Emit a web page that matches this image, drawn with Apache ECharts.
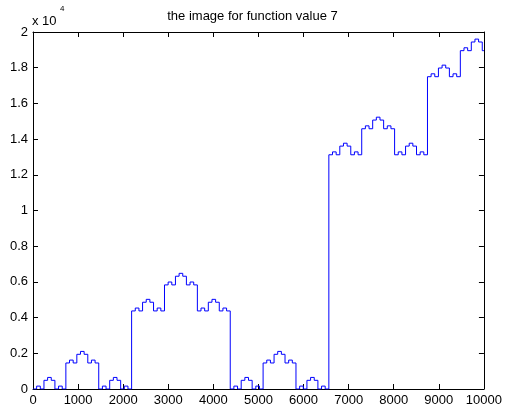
<!DOCTYPE html>
<html><head><meta charset="utf-8">
<script src="https://cdn.jsdelivr.net/npm/echarts@6/dist/echarts.min.js"></script>
<style>html,body{margin:0;padding:0;background:#fff}#c{width:505px;height:410px}</style>
</head><body><div id="c"></div>
<script>
// Step start positions (x) and the level held from each start until the next one
const xStarts = [
  0,81,162,243,324,405,486,567,648,729,
  810,891,972,1053,1134,1215,1296,1377,1458,1539,
  1620,1701,1782,1863,1944,2025,2106,2187,2268,2349,
  2430,2511,2592,2673,2754,2835,2916,2997,3078,3159,
  3240,3321,3402,3483,3564,3645,3726,3807,3888,3969,
  4050,4131,4212,4293,4374,4455,4536,4617,4698,4779,
  4860,4941,5022,5103,5184,5265,5346,5427,5508,5589,
  5670,5751,5832,5913,5994,6075,6156,6237,6318,6399,
  6480,6561,6642,6723,6804,6885,6966,7047,7128,7209,
  7290,7371,7452,7533,7614,7695,7776,7857,7938,8019,
  8100,8181,8262,8343,8424,8505,8586,8667,8748,8829,
  8910,8991,9072,9153,9234,9315,9396,9477,9558,9639,
  9720,9801,9882,9963
];
const yValues = [
  0,162,0,486,648,486,0,162,0,1458,1620,1458,1944,2106,1944,1458,1620,1458,0,162,0,486,648,486,0,162,0,
  4374,4536,4374,4860,5022,4860,4374,4536,4374,5832,5994,5832,6318,6480,6318,5832,5994,5832,4374,4536,4374,4860,5022,4860,4374,4536,4374,
  0,162,0,486,648,486,0,162,0,1458,1620,1458,1944,2106,1944,1458,1620,1458,0,162,0,486,648,486,0,162,0,
  13122,13284,13122,13608,13770,13608,13122,13284,13122,14580,14742,14580,15066,15228,15066,14580,14742,14580,13122,13284,13122,13608,13770,13608,13122,13284,13122,
  17496,17658,17496,17982,18144,17982,17496,17658,17496,18954,19116,18954,19440,19602,19440,18954
];
const xEnd = 10000;
const xTickLabels = ['0','1000','2000','3000','4000','5000','6000','7000','8000','9000','10000'];
const yTickLabels = ['0','0.2','0.4','0.6','0.8','1','1.2','1.4','1.6','1.8','2'];
const titleText = 'the image for function value 7';
const exponentBase = 'x 10';
const exponentPower = '4';

const data = xStarts.map((x, i) => [x, yValues[i]]);
data.push([xEnd, yValues[yValues.length - 1]]);

const FONT = '"Liberation Sans", Arial, sans-serif';
const chart = echarts.init(document.getElementById('c'), null, {renderer: 'canvas'});

function axisCommon(extra) {
  return Object.assign({
    type: 'value',
    axisLine: {show: true, onZero: false, lineStyle: {color: '#000', width: 1}},
    axisTick: {show: true, inside: true, length: 5, lineStyle: {color: '#000', width: 1}},
    splitLine: {show: false}
  }, extra);
}

chart.setOption({
  animation: false,
  backgroundColor: '#fff',
  grid: {left: 33, right: 18, top: 32, bottom: 21, containLabel: false},
  xAxis: [
    axisCommon({position: 'bottom', min: 0, max: 10000, interval: 1000,
      axisLabel: {show: true, color: '#000', fontSize: 13, fontFamily: FONT, margin: 5,
        showMinLabel: true, showMaxLabel: true, hideOverlap: false,
        formatter: v => xTickLabels[Math.round(v / 1000)]}}),
    axisCommon({position: 'top', min: 0, max: 10000, interval: 1000, axisLabel: {show: false}})
  ],
  yAxis: [
    axisCommon({position: 'left', min: 0, max: 20000, interval: 2000,
      axisLabel: {show: true, color: '#000', fontSize: 13, fontFamily: FONT, margin: 5,
        showMinLabel: true, showMaxLabel: true,
        formatter: v => yTickLabels[Math.round(v / 2000)]}}),
    axisCommon({position: 'right', min: 0, max: 20000, interval: 2000, axisLabel: {show: false}})
  ],
  graphic: [
    {type: 'text', left: 'center', top: 10, style: {text: titleText, fill: '#000', font: '13px ' + FONT}},
    {type: 'text', left: 32, top: 15, style: {text: exponentBase, fill: '#000', font: '13px ' + FONT}},
    {type: 'text', left: 60, top: 5, style: {text: exponentPower, fill: '#000', font: '8px ' + FONT}}
  ],
  series: [{
    type: 'line',
    step: 'end',
    data: data,
    showSymbol: false,
    symbol: 'none',
    lineStyle: {color: '#0000ff', width: 1},
    xAxisIndex: 0,
    yAxisIndex: 0
  }]
});
</script>
</body></html>
